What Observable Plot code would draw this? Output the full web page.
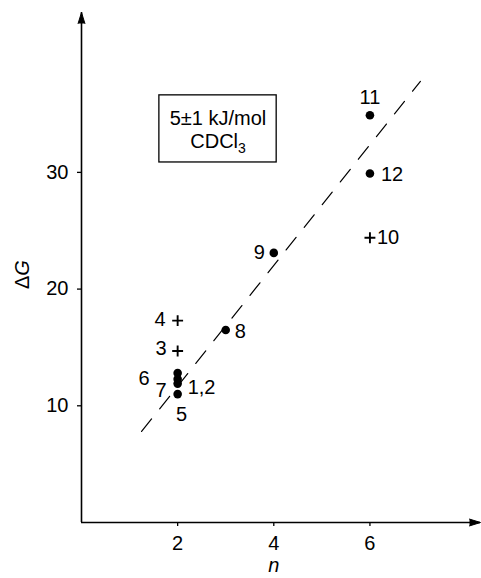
<!DOCTYPE html>
<html>
<head>
<meta charset="utf-8">
<script src="https://cdn.jsdelivr.net/npm/d3@7"></script>
<script src="https://cdn.jsdelivr.net/npm/@observablehq/plot@0.6"></script>
<style>
  html, body { margin: 0; padding: 0; background: #fff; }
</style>
</head>
<body>
<div id="chart"></div>
<script>
// Free energy ΔG (kJ/mol, CDCl3) against n for compounds 1–12
const compounds = ["1,2", "3", "4", "5", "6", "7", "8", "9", "10", "11", "12"];
const nValues   = [2, 2, 2, 2, 2, 2, 3, 4, 6, 6, 6];
const dGValues  = [11.9, 14.7, 17.3, 11.0, 12.8, 12.3, 16.5, 23.1, 24.4, 34.9, 29.9];
const markerKind = ["dot", "plus", "plus", "dot", "dot", "dot", "dot", "dot", "plus", "dot", "dot"];

// Axis ticks
const xTicks = [2, 4, 6];
const yTicks = [10, 20, 30];

// Dashed correlation line (end points)
const fitN  = [1.25, 7.05];
const fitDG = [7.8, 37.8];

// Boxed note
const noteLines = ["5±1 kJ/mol", "CDCl3"];

const rows = compounds.map((id, i) => ({ id, n: nValues[i], dG: dGValues[i], kind: markerKind[i] }));
const fit = fitN.map((n, i) => ({ n, dG: fitDG[i] }));

// Label offsets (px) around each marker
const place = {
  "1,2": { dx: 10, dy: 4, anchor: "start" },
  "3":   { dx: -11, dy: -2, anchor: "end" },
  "4":   { dx: -12, dy: -1, anchor: "end" },
  "5":   { dx: 4, dy: 20, anchor: "middle" },
  "6":   { dx: -28, dy: 5, anchor: "end" },
  "7":   { dx: -11, dy: 12, anchor: "end" },
  "8":   { dx: 9, dy: 1.5, anchor: "start" },
  "9":   { dx: -9, dy: 0, anchor: "end" },
  "10":  { dx: 7, dy: 0, anchor: "start" },
  "11":  { dx: 0, dy: -18, anchor: "middle" },
  "12":  { dx: 11, dy: 1, anchor: "start" }
};

const xMax = 8.3, yMax = 43.7;
const font = "'Liberation Sans', Arial, Helvetica, sans-serif";

const chart = Plot.plot({
  width: 481,
  height: 578,
  marginLeft: 81,
  marginRight: 1,
  marginTop: 12,
  marginBottom: 56,
  x: { domain: [0, xMax] },
  y: { domain: [0, yMax] },
  style: { fontFamily: font, fontSize: "20px", color: "#000", background: "#fff" },
  marks: [
    // axis ticks and tick labels
    Plot.axisX({ ticks: xTicks, tickSize: 4, tickPadding: 9, label: null, fontSize: 20, strokeWidth: 1.3 }),
    Plot.axisY({ ticks: yTicks, tickSize: 4, tickPadding: 9, label: null, fontSize: 20, strokeWidth: 1.3 }),
    // axis lines with arrow heads
    Plot.ruleX([0], { y1: 0, y2: yMax, stroke: "black", strokeWidth: 1.6 }),
    Plot.ruleY([0], { x1: 0, x2: xMax, stroke: "black", strokeWidth: 1.6 }),
    Plot.vector([0], { x: 0, y: yMax, length: 11, rotate: 0, shape: "spike", r: 3.4, anchor: "end", fill: "black", stroke: "black", strokeWidth: 1 }),
    Plot.vector([0], { x: xMax, y: 0, length: 11, rotate: 90, shape: "spike", r: 3.4, anchor: "end", fill: "black", stroke: "black", strokeWidth: 1 }),
    // dashed trend line
    Plot.line(fit, { x: "n", y: "dG", stroke: "black", strokeWidth: 1.2, strokeDasharray: "16,13" }),
    // data markers
    Plot.dot(rows.filter(d => d.kind === "dot"), { x: "n", y: "dG", r: 4.3, fill: "black", stroke: "none" }),
    Plot.dot(rows.filter(d => d.kind === "plus"), { x: "n", y: "dG", symbol: "plus", r: 3.6, stroke: "black", strokeWidth: 1.9 }),
    // compound numbers
    ...rows.map(d => {
      const p = place[d.id];
      return Plot.text([d], { x: "n", y: "dG", text: "id", dx: p.dx, dy: p.dy, textAnchor: p.anchor, fontSize: 20, fill: "black" });
    }),
    // boxed note
    Plot.rect([0], { x1: 1.62, x2: 4.06, y1: 30.85, y2: 36.6, fill: "none", stroke: "black", strokeWidth: 1.3 }),
    Plot.text(noteLines, { x: 2.84, y: (d, i) => [34.6, 32.6][i], text: d => d, fontSize: 20, fill: "black" }),
    // axis titles
    Plot.text(["ΔG"], { frameAnchor: "left", y: [20], dx: -59, rotate: -90, fontSize: 20, fill: "black" }),
    Plot.text(["n"], { frameAnchor: "bottom", x: [4], dy: 49, lineAnchor: "bottom", fontStyle: "italic", fontSize: 20, fill: "black" })
  ]
});

// Typographic touches: subscript in CDCl3, italic G in ΔG
d3.select(chart).selectAll("text").each(function () {
  const t = this.textContent;
  if (t === "CDCl3") {
    this.textContent = "CDCl";
    d3.select(this).append("tspan").attr("dy", "0.3em").attr("font-size", "14px").text("3");
  } else if (t === "ΔG") {
    this.textContent = "Δ";
    d3.select(this).append("tspan").attr("font-style", "italic").text("G");
  }
});

document.getElementById("chart").appendChild(chart);
</script>
</body>
</html>
